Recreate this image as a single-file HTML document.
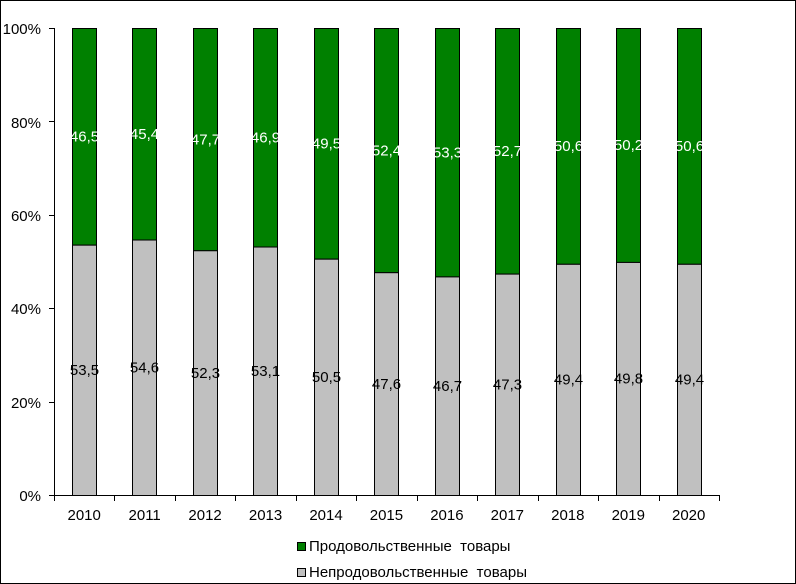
<!DOCTYPE html>
<html><head><meta charset="utf-8"><style>
html,body{margin:0;padding:0;background:#fff}
svg{display:block}
text{font-family:"Liberation Sans",Arial,sans-serif;font-size:15px}
</style></head><body>
<svg width="796" height="584" xmlns="http://www.w3.org/2000/svg">
<rect x="0.5" y="0.5" width="795" height="583" fill="#fff" stroke="#000"/>
<g id="bars" stroke="#000" stroke-width="1"></g>
<g id="lbl"></g>
<line x1="54.5" y1="28" x2="54.5" y2="495" stroke="#000"/>
<line x1="54" y1="495.5" x2="719" y2="495.5" stroke="#000"/>
<g id="ax" stroke="#000"></g>
<g text-anchor="end">
<text x="41" y="34">100%</text>
<text x="41" y="128">80%</text>
<text x="41" y="221">60%</text>
<text x="41" y="314">40%</text>
<text x="41" y="408">20%</text>
<text x="41" y="501">0%</text>
</g>
<rect x="297.5" y="542.5" width="8" height="8" fill="#008000" stroke="#000"/>
<text x="309" y="551">Продовольственные&#160; товары</text>
<rect x="297.5" y="568.5" width="8" height="8" fill="#c0c0c0" stroke="#000"/>
<text x="309" y="577">Непродовольственные&#160; товары</text>
<script>
var g=[53.5,54.6,52.3,53.1,50.5,47.6,46.7,47.3,49.4,49.8,49.4];
var gr=["46,5","45,4","47,7","46,9","49,5","52,4","53,3","52,7","50,6","50,2","50,6"];
var ns="http://www.w3.org/2000/svg";
var bars=document.getElementById("bars"),lbl=document.getElementById("lbl"),ax=document.getElementById("ax");
function el(p,t,a,txt){var e=document.createElementNS(ns,t);for(var k in a)e.setAttribute(k,a[k]);if(txt)e.textContent=txt;p.appendChild(e);return e;}
for(var i=0;i<11;i++){
 var x=Math.round(54+60.45*i+18)+0.5, w=24;
 var b=495-4.67*g[i];
 el(bars,"rect",{x:x,y:28.5,width:w,height:b-28.5,fill:"#008000"});
 el(bars,"rect",{x:x,y:b,width:w,height:495.5-b,fill:"#c0c0c0"});
 var cx=x+w/2;
 el(lbl,"text",{x:cx,y:(28+b)/2+5,"text-anchor":"middle",fill:"#fff"},gr[i]);
 el(lbl,"text",{x:cx,y:(b+495)/2+5,"text-anchor":"middle",fill:"#000"},String(g[i]).replace(".",","));
 el(lbl,"text",{x:54+60.45*i+30.2,y:520,"text-anchor":"middle",fill:"#000"},String(2010+i));
}
for(var j=0;j<=11;j++){var tx=Math.round(54+60.45*j)+0.5;el(ax,"line",{x1:tx,y1:495,x2:tx,y2:501});}
for(var k=0;k<=5;k++){var ty=Math.round(495-93.4*k)+0.5;el(ax,"line",{x1:49,y1:ty,x2:54,y2:ty});}
</script>
</svg>
</body></html>
